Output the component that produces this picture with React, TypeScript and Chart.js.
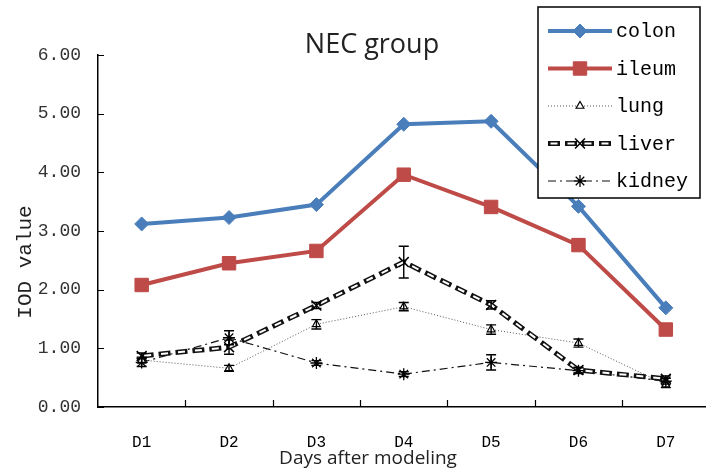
import React, { useEffect, useRef } from "react";
import { Chart, registerables } from "chart.js";

Chart.register(...registerables);

const categories = ["D1", "D2", "D3", "D4", "D5", "D6", "D7"];
const yTicks = [0, 1, 2, 3, 4, 5, 6];

const colon = [3.12, 3.23, 3.45, 4.82, 4.87, 3.42, 1.69];
const ileum = [2.08, 2.45, 2.66, 3.96, 3.41, 2.76, 1.32];
const lung = [0.8, 0.66, 1.41, 1.71, 1.32, 1.09, 0.38];
const liver = [0.87, 1.02, 1.73, 2.47, 1.74, 0.63, 0.48];
const kidney = [0.76, 1.18, 0.75, 0.56, 0.76, 0.62, 0.44];

const lungErr = [0.05, 0.05, 0.08, 0.07, 0.08, 0.07, 0.05];
const liverErr = [0.05, 0.12, 0.05, 0.27, 0.07, 0.05, 0.05];
const kidneyErr = [0.07, 0.12, 0.04, 0.04, 0.13, 0.05, 0.05];

const titleText = "NEC group";
const yTitle = "IOD value";
const xTitle = "Days after modeling";

const BLUE = "#4a7ebb";
const RED = "#be4b48";

function drawMarker(ctx: CanvasRenderingContext2D, style: string, x: number, y: number, r: number, fill: string, stroke: string, lw: number) {
  ctx.save();
  ctx.beginPath();
  ctx.lineWidth = lw;
  ctx.strokeStyle = stroke;
  ctx.fillStyle = fill;
  if (style === "rectRot") {
    ctx.moveTo(x, y - r); ctx.lineTo(x + r, y); ctx.lineTo(x, y + r); ctx.lineTo(x - r, y); ctx.closePath();
    ctx.fill(); ctx.stroke();
  } else if (style === "rect") {
    const s = Math.SQRT1_2 * r;
    ctx.rect(x - s, y - s, 2 * s, 2 * s); ctx.fill(); ctx.stroke();
  } else if (style === "triangle") {
    const side = (3 * r) / Math.sqrt(3);
    const h = (side * Math.sqrt(3)) / 2;
    ctx.moveTo(x, y - (2 * h) / 3); ctx.lineTo(x + side / 2, y + h / 3); ctx.lineTo(x - side / 2, y + h / 3); ctx.closePath();
    ctx.fill(); ctx.stroke();
  } else if (style === "crossRot") {
    const d = r * Math.SQRT1_2;
    ctx.moveTo(x - d, y - d); ctx.lineTo(x + d, y + d); ctx.moveTo(x + d, y - d); ctx.lineTo(x - d, y + d); ctx.stroke();
  } else if (style === "star") {
    const d = r * Math.SQRT1_2;
    ctx.moveTo(x - d, y - d); ctx.lineTo(x + d, y + d); ctx.moveTo(x + d, y - d); ctx.lineTo(x - d, y + d);
    ctx.moveTo(x, y - r); ctx.lineTo(x, y + r); ctx.moveTo(x - r, y); ctx.lineTo(x + r, y); ctx.stroke();
  }
  ctx.restore();
}

const decorPlugin = {
  id: "decor",
  afterDatasetsDraw(chart: any) {
    const ctx: CanvasRenderingContext2D = chart.ctx;
    const xs = chart.scales.x;
    const ys = chart.scales.y;
    const area = chart.chartArea;
    // error bars
    chart.data.datasets.forEach((ds: any) => {
      if (!ds.errors) return;
      ctx.save();
      ctx.strokeStyle = "#000";
      ctx.lineWidth = 1.4;
      ds.data.forEach((v: number, i: number) => {
        const e = ds.errors[i];
        if (!e) return;
        const x = xs.getPixelForValue(i);
        const y1 = ys.getPixelForValue(v - e);
        const y2 = ys.getPixelForValue(v + e);
        ctx.beginPath();
        ctx.moveTo(x, y1); ctx.lineTo(x, y2);
        ctx.moveTo(x - 5, y1); ctx.lineTo(x + 5, y1);
        ctx.moveTo(x - 5, y2); ctx.lineTo(x + 5, y2);
        ctx.stroke();
      });
      ctx.restore();
    });
    // inward ticks
    ctx.save();
    ctx.strokeStyle = "#000";
    ctx.lineWidth = 1.2;
    ctx.beginPath();
    ys.ticks.forEach((t: any) => {
      const y = Math.round(ys.getPixelForValue(t.value)) + 0.5;
      ctx.moveTo(area.left, y); ctx.lineTo(area.left + 6, y);
    });
    for (let i = 1; i < categories.length; i++) {
      const x = Math.round((xs.getPixelForValue(i - 1) + xs.getPixelForValue(i)) / 2) + 0.5;
      ctx.moveTo(x, area.bottom); ctx.lineTo(x, area.bottom - 7);
    }
    ctx.stroke();
    ctx.restore();
  },
  afterDraw(chart: any) {
    const ctx: CanvasRenderingContext2D = chart.ctx;
    ctx.save();
    // title
    ctx.fillStyle = "#222";
    ctx.font = "27px 'Open Sans'";
    ctx.textAlign = "center";
    ctx.textBaseline = "middle";
    ctx.fillText(titleText, 372, 45);
    // x title
    ctx.font = "19px 'Open Sans'";
    ctx.fillText(xTitle, 368, 459);
    // y title
    ctx.save();
    ctx.translate(25, 262);
    ctx.rotate(-Math.PI / 2);
    ctx.font = "21px 'Liberation Mono'";
    ctx.fillText(yTitle, 0, 0);
    ctx.restore();
    // legend
    const bx = 538, by = 7, bw = 162, bh = 191;
    ctx.fillStyle = "#fff";
    ctx.fillRect(bx, by, bw, bh);
    ctx.strokeStyle = "#000";
    ctx.lineWidth = 1.5;
    ctx.strokeRect(bx, by, bw, bh);
    const entries = chart.data.datasets.filter((d: any) => !d.hiddenLegend);
    entries.forEach((ds: any, k: number) => {
      const y = 31 + k * 37.5;
      const x0 = 548, x1 = 612, xm = 580;
      ctx.save();
      ctx.beginPath();
      ctx.strokeStyle = ds.borderColor;
      ctx.lineWidth = ds.borderWidth;
      ctx.setLineDash(ds.borderDash || []);
      ctx.moveTo(x0, y); ctx.lineTo(x1, y);
      ctx.stroke();
      if (ds.label === "liver") {
        ctx.beginPath();
        ctx.strokeStyle = "#fff";
        ctx.lineWidth = 2;
        ctx.setLineDash([7, 10]);
        ctx.lineDashOffset = -2.5;
        ctx.moveTo(x0, y); ctx.lineTo(x1, y);
        ctx.stroke();
      }
      ctx.restore();
      drawMarker(ctx, ds.pointStyle, xm, y, ds.pointRadius, ds.pointBackgroundColor, ds.pointBorderColor, ds.pointBorderWidth);
      ctx.fillStyle = "#000";
      ctx.font = "20px 'Liberation Mono'";
      ctx.textAlign = "left";
      ctx.textBaseline = "middle";
      ctx.fillText(ds.label, 616, y + 1);
    });
    ctx.restore();
  },
};

export default function App() {
  const ref = useRef<HTMLCanvasElement | null>(null);
  useEffect(() => {
    if (!ref.current) return;
    const chart = new Chart(ref.current, {
      type: "line",
      data: {
        labels: categories,
        datasets: [
          {
            label: "colon", data: colon, borderColor: BLUE, backgroundColor: BLUE, borderWidth: 4,
            pointStyle: "rectRot", pointRadius: 7, pointBackgroundColor: BLUE, pointBorderColor: BLUE, pointBorderWidth: 1, order: 0,
          },
          {
            label: "ileum", data: ileum, borderColor: RED, backgroundColor: RED, borderWidth: 4,
            pointStyle: "rect", pointRadius: 9.5, pointBackgroundColor: RED, pointBorderColor: RED, pointBorderWidth: 1, order: 1,
          },
          {
            label: "lung", data: lung, borderColor: "#555", backgroundColor: "#fff", borderWidth: 1, borderDash: [1, 2],
            pointStyle: "triangle", pointRadius: 4.5, pointBackgroundColor: "#fff", pointBorderColor: "#000", pointBorderWidth: 1.2, order: 4,
            errors: lungErr,
          },
          {
            label: "liver", data: liver, borderColor: "#111", backgroundColor: "#111", borderWidth: 5, borderDash: [12, 5],
            pointStyle: "crossRot", pointRadius: 7, pointBackgroundColor: "#000", pointBorderColor: "#000", pointBorderWidth: 1.5, order: 3,
            errors: liverErr,
          },
          {
            label: "liver-core", data: liver, hiddenLegend: true, borderColor: "#fff", borderWidth: 2, borderDash: [7, 10],
            borderDashOffset: -2.5, pointRadius: 0, order: 2,
          },
          {
            label: "kidney", data: kidney, borderColor: "#111", backgroundColor: "#111", borderWidth: 1.2, borderDash: [8, 4, 2, 4],
            pointStyle: "star", pointRadius: 6, pointBackgroundColor: "#000", pointBorderColor: "#000", pointBorderWidth: 1.3, order: 5,
            errors: kidneyErr,
          },
        ] as any,
      },
      options: {
        animation: false,
        responsive: false,
        events: [],
        layout: { padding: { top: 55, right: 10, left: 0, bottom: 0 } },
        elements: { line: { tension: 0 } },
        plugins: { legend: { display: false }, title: { display: false }, tooltip: { enabled: false } },
        scales: {
          x: {
            type: "category",
            offset: true,
            grid: { display: true, drawOnChartArea: false, drawTicks: false, color: "#000" },
            border: { display: true, color: "#000", width: 1.5 },
            ticks: { color: "#000", font: { family: "'Liberation Mono'", size: 16 }, padding: 26, maxRotation: 0 },
            afterFit: (s: any) => { s.height = 69; },
          },
          y: {
            min: 0, max: 6,
            afterBuildTicks: (s: any) => { s.ticks = yTicks.map((v) => ({ value: v })); },
            grid: { display: true, drawOnChartArea: false, drawTicks: false, color: "#000" },
            border: { display: true, color: "#000", width: 1.5 },
            ticks: {
              color: "#333", font: { family: "'Liberation Mono'", size: 18 }, padding: 17,
              callback: (v: any) => Number(v).toFixed(2),
            },
            afterFit: (s: any) => { s.width = 98; },
          },
        },
      } as any,
      plugins: [decorPlugin],
    });
    return () => chart.destroy();
  }, []);
  return (
    <div style={{ position: "absolute", left: 0, top: 0, width: 706, height: 476, overflow: "hidden", background: "#fff" }}>
      <canvas ref={ref} width={720} height={476} style={{ width: 720, height: 476, display: "block" }} />
    </div>
  );
}
